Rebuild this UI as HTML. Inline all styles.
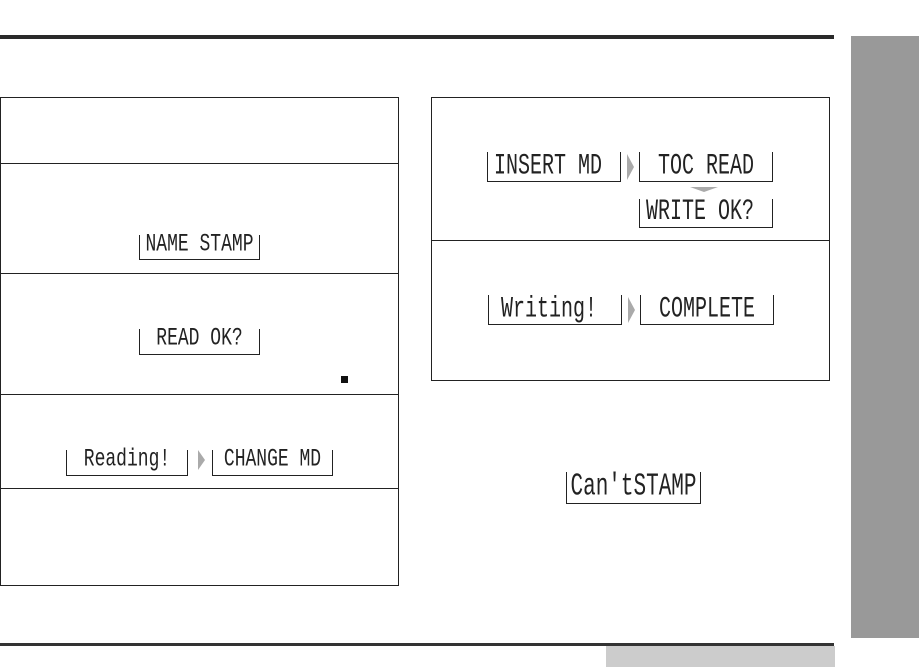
<!DOCTYPE html>
<html><head><style>
body{margin:0;width:923px;height:668px;background:#fff;position:relative;overflow:hidden;font-family:"Liberation Mono",monospace}
.a{position:absolute}
.box{position:absolute;border:1px solid #222;box-sizing:border-box}
.hl{position:absolute;height:1px;background:#222}
.d{position:absolute;box-sizing:border-box;border-left:1px solid #222;border-right:1px solid #222;border-bottom:1px solid #222;text-align:center;color:#222;white-space:pre}
.d span{display:inline-block}
.s{font-size:18px}
.s span{transform:scaleY(1.4)}
.L{font-size:20px}
.L span{transform:scaleY(1.5)}
.ar{position:absolute;width:0;height:0;border-top:7px solid transparent;border-bottom:7px solid transparent;border-left:6px solid #aaa}
</style></head><body>
<div class="a" style="left:0;top:35px;width:834px;height:4px;background:#2a2a2a"></div>
<div class="a" style="left:851px;top:36px;width:68px;height:602px;background:#999"></div>
<div class="a" style="left:0;top:643px;width:834px;height:3px;background:#333"></div>
<div class="a" style="left:606px;top:646px;width:229px;height:21px;background:#ccc"></div>

<div class="box" style="left:0;top:97px;width:399px;height:489px"></div>
<div class="hl" style="left:0;top:163px;width:399px"></div>
<div class="hl" style="left:0;top:273px;width:399px"></div>
<div class="hl" style="left:0;top:394px;width:399px"></div>
<div class="hl" style="left:0;top:488px;width:399px"></div>

<div class="d s" style="left:139px;top:235px;width:121px;height:25px;line-height:21px"><span>NAME STAMP</span></div>
<div class="d s" style="left:139px;top:329px;width:121px;height:26px;line-height:21px"><span>READ OK?</span></div>
<div class="a" style="left:341px;top:376px;width:7px;height:7px;background:#111"></div>
<div class="d s" style="left:66px;top:450px;width:122px;height:26px;line-height:21px"><span>Reading!</span></div>
<div class="ar" style="left:198px;top:450px;border-top-width:10px;border-bottom-width:10px;border-left-width:7px"></div>
<div class="d s" style="left:212px;top:450px;width:121px;height:26px;line-height:21px"><span>CHANGE MD</span></div>

<div class="box" style="left:431px;top:97px;width:399px;height:284px"></div>
<div class="hl" style="left:431px;top:240px;width:399px"></div>

<div class="d L" style="left:487px;top:152px;width:134px;height:30px;line-height:29px"><span>INSERT MD </span></div>
<div class="ar" style="left:627px;top:154px;border-top-width:13px;border-bottom-width:13px;border-left-width:7px"></div>
<div class="d L" style="left:639px;top:152px;width:134px;height:30px;line-height:29px"><span>TOC READ</span></div>
<div class="a" style="left:690px;top:187px;width:0;height:0;border-left:14px solid transparent;border-right:14px solid transparent;border-top:5px solid #aaa"></div>
<div class="d L" style="left:639px;top:199px;width:134px;height:29px;line-height:28px"><span>WRITE OK? </span></div>

<div class="d L" style="left:488px;top:295px;width:134px;height:30px;line-height:29px"><span>Writing! </span></div>
<div class="ar" style="left:628px;top:297px;border-top-width:13px;border-bottom-width:13px;border-left-width:7px"></div>
<div class="d L" style="left:640px;top:295px;width:134px;height:30px;line-height:29px"><span>COMPLETE</span></div>

<div class="d L" style="left:566px;top:472px;width:135px;height:32px;line-height:31px;font-size:21px"><span>Can'tSTAMP</span></div>
</body></html>
